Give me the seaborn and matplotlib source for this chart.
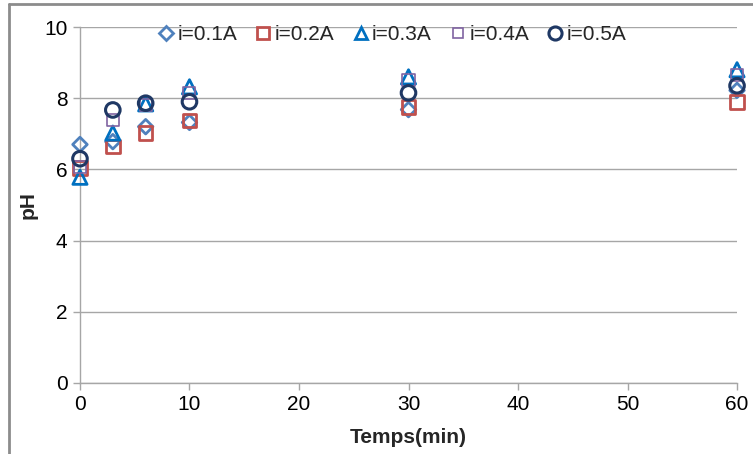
import numpy as np
import pandas as pd
import seaborn as sns
import matplotlib
matplotlib.use("Agg")
import matplotlib.pyplot as plt
from matplotlib.lines import Line2D

# time points (min)
temps = [0, 3, 6, 10, 30, 60]

# pH for each current
ph_01 = [6.70, 6.78, 7.20, 7.32, 7.68, 8.22]
ph_02 = [6.04, 6.64, 7.03, 7.37, 7.76, 7.90]
ph_03 = [5.78, 7.02, 7.84, 8.32, 8.60, 8.80]
ph_04 = [6.08, 7.39, 7.82, 8.15, 8.50, 8.65]
ph_05 = [6.30, 7.67, 7.86, 7.90, 8.15, 8.35]

labels = ["i=0.1A", "i=0.2A", "i=0.3A", "i=0.4A", "i=0.5A"]
series = [ph_01, ph_02, ph_03, ph_04, ph_05]

colors = ["#4F81BD", "#C0504D", "#0070C0", "#8064A2", "#1F3864"]
markers = ["D", "s", "^", "s", "o"]
sizes = [55, 95, 105, 75, 110]
widths = [2.0, 2.0, 2.0, 1.2, 2.2]

sns.set_theme(style="white")
plt.rcParams["font.family"] = ["Liberation Sans", "DejaVu Sans"]
fs = 15

fig = plt.figure(figsize=(7.53, 4.54), dpi=100)
ax = fig.add_axes([0.1062, 0.1564, 0.8726, 0.7841])

for lab, vals, c, m, s, lw in zip(labels, series, colors, markers, sizes, widths):
    df = pd.DataFrame({"Temps": temps, "pH": vals})
    sns.scatterplot(data=df, x="Temps", y="pH", ax=ax, marker=m, s=s,
                    color=c, facecolors="none", edgecolor=c, linewidth=lw,
                    label=lab, zorder=3, clip_on=False)

ax.set_xlim(0, 60)
ax.set_ylim(0, 10)
ax.set_xticks(range(0, 61, 10))
ax.set_yticks(range(0, 11, 2))
ax.yaxis.grid(True, color="#A6A6A6", linewidth=1)
ax.xaxis.grid(False)
for side in ["top", "right"]:
    ax.spines[side].set_visible(False)
for side in ["left", "bottom"]:
    ax.spines[side].set_color("#A6A6A6")
    ax.spines[side].set_linewidth(1)
ax.tick_params(axis="both", labelsize=fs, colors="#A6A6A6", labelcolor="black",
               length=5, width=1, direction="out", left=True, bottom=True)
ax.tick_params(axis="y", pad=4)
ax.tick_params(axis="x", pad=4)
ax.set_xlabel("Temps(min)", fontsize=fs, fontweight="bold", labelpad=10)
ax.set_ylabel("pH", fontsize=fs, fontweight="bold")
ax.yaxis.set_label_coords(-0.065, 0.5)

handles = [Line2D([], [], linestyle="none", marker=m, markersize=np.sqrt(s) * 0.9,
                  markerfacecolor="none", markeredgecolor=c, markeredgewidth=lw)
           for c, m, s, lw in zip(colors, markers, sizes, widths)]
ax.legend(handles, labels, loc="center", bbox_to_anchor=(0.475, 0.978),
          ncol=5, frameon=False, fontsize=fs, handletextpad=0.15,
          columnspacing=0.85, handlelength=0.8, borderpad=0.2)

# outer frame of the chart area (left and top edges visible)
fig.add_artist(Line2D([0.012, 0.012], [0, 0.991], transform=fig.transFigure,
                      color="#8C8C8C", linewidth=2))
fig.add_artist(Line2D([0.012, 1.0], [0.991, 0.991], transform=fig.transFigure,
                      color="#8C8C8C", linewidth=2))

fig.savefig("out.png", dpi=100)
